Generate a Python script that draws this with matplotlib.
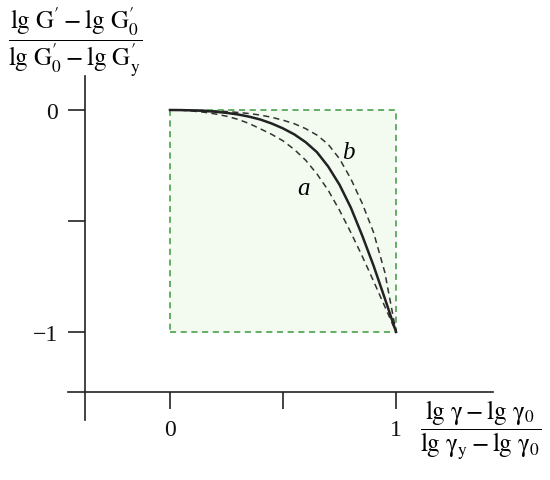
import matplotlib
matplotlib.use("Agg")
import matplotlib.pyplot as plt
from matplotlib.patches import Rectangle

plt.rcParams['mathtext.fontset'] = 'stix'
plt.rcParams['font.family'] = 'serif'
plt.rcParams['font.serif'] = ['Liberation Serif', 'DejaVu Serif']
plt.rcParams['axes.unicode_minus'] = True

# Normalized strain (x) and normalized modulus (y) readings
x_vals = [0, 0.05, 0.1, 0.15, 0.2, 0.25, 0.3, 0.35, 0.4, 0.45, 0.5, 0.55, 0.6, 0.65,
          0.7, 0.75, 0.8, 0.85, 0.9, 0.95, 1.0]
y_mid = [0, -0.0005, -0.002, -0.004, -0.008, -0.013, -0.02, -0.03, -0.043, -0.061, -0.083,
         -0.11, -0.145, -0.19, -0.255, -0.337, -0.44, -0.565, -0.70, -0.848, -1.0]
y_b = [0, -0.0003, -0.001, -0.002, -0.004, -0.007, -0.011, -0.016, -0.023, -0.033, -0.046,
       -0.062, -0.084, -0.113, -0.155, -0.22, -0.31, -0.42, -0.55, -0.73, -1.0]
y_a = [0, -0.001, -0.005, -0.01, -0.018, -0.028, -0.042, -0.061, -0.085, -0.11, -0.139,
       -0.178, -0.226, -0.288, -0.362, -0.452, -0.552, -0.658, -0.77, -0.885, -1.0]

box_x = [0, 1]
box_y = [-1, 0]

x_ticks = [0, 0.5, 1]
x_ticklabels = ['0', '', '1']
y_ticks = [0, -0.5, -1]
y_ticklabels = ['0', '', '\u22121']

fig = plt.figure(figsize=(5.5, 4.81), dpi=100)
ax = fig.add_axes([0, 0, 1, 1])
ax.set_xlim(-0.752, 1.681)
ax.set_ylim(-1.667, 0.5)

# Region box
ax.add_patch(Rectangle((box_x[0], box_y[0]), box_x[1] - box_x[0], box_y[1] - box_y[0],
                       facecolor='#f3fbf1', edgecolor='#3c9a3c', linestyle=(0, (4, 3)),
                       linewidth=1.1, zorder=1))

dash = (0, (4, 2.8))
ax.plot(x_vals, y_b, color='#333333', linestyle=dash, linewidth=1.1, zorder=3)
ax.plot(x_vals, y_a, color='#333333', linestyle=dash, linewidth=1.1, zorder=3)
ax.plot(x_vals, y_mid, color='#222222', linewidth=1.8, zorder=4, solid_joinstyle='round')

ax.text(0.59, -0.35, 'a', fontsize=18, style='italic', ha='center', va='center')
ax.text(0.79, -0.19, 'b', fontsize=18, style='italic', ha='center', va='center')

# Axes
for s in ['top', 'right']:
    ax.spines[s].set_visible(False)
ax.spines['left'].set_position(('data', -0.376))
ax.spines['left'].set_bounds(-1.396, 0.153)
ax.spines['bottom'].set_position(('data', -1.27))
ax.spines['bottom'].set_bounds(-0.451, 1.429)
for s in ['left', 'bottom']:
    ax.spines[s].set_linewidth(1.2)
    ax.spines[s].set_color('#222222')

ax.set_xticks(x_ticks)
ax.set_xticklabels(x_ticklabels)
ax.set_yticks(y_ticks)
ax.set_yticklabels(y_ticklabels)
ax.tick_params(axis='both', direction='out', length=12.5, width=1.2, color='#222222',
               labelsize=17, labelcolor='#111111')
ax.tick_params(axis='x', pad=7)
ax.tick_params(axis='y', pad=7)
ax.patch.set_alpha(0)

fig.text(0.137, 0.912,
         r'$\dfrac{\mathrm{lg\ G^{\prime}-lg\ G_0^{\prime}}}{\mathrm{lg\ G_0^{\prime}-lg\ G_y^{\prime}}}$',
         fontsize=18, ha='center', va='center')
fig.text(0.874, 0.106,
         r'$\dfrac{\mathrm{lg\ \gamma-lg\ \gamma_0}}{\mathrm{lg\ \gamma_y-lg\ \gamma_0}}$',
         fontsize=18, ha='center', va='center')

fig.savefig('out.png', dpi=100)
